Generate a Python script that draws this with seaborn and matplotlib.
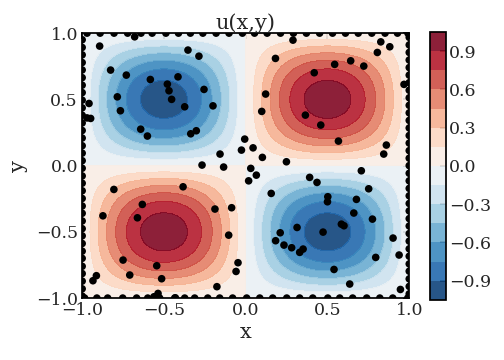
import numpy as np
import pandas as pd
import matplotlib
matplotlib.use("Agg")
import matplotlib.pyplot as plt
import seaborn as sns

# field levels and colorbar ticks
levels = [-1.05, -0.9, -0.75, -0.6, -0.45, -0.3, -0.15, 0.0,
          0.15, 0.3, 0.45, 0.6, 0.75, 0.9, 1.05]
cbar_ticks = [-0.9, -0.6, -0.3, 0.0, 0.3, 0.6, 0.9]
axis_ticks = [-1.0, -0.5, 0.0, 0.5, 1.0]

# interior collocation points
x_int = [-0.893, -0.353, -0.286, -0.826, -0.730, -0.583, -0.414, -0.479, -0.469, -0.453,
         -0.255, -0.785, -0.766, -0.373, -0.200, -0.642, -0.601, -0.336, -0.302, -0.958,
         -0.948, -0.970, -0.006, -0.026, 0.045, -0.157, -0.267, -0.135, 0.031, -0.679,
         0.289, 0.826, 0.881, 0.805, 0.182, 0.642, 0.722, 0.544, 0.419, 0.968,
         0.122, 0.098, 0.365, 0.459, 0.567, 0.102, 0.249, 0.860, 0.844,
         0.065, 0.018, -0.806, -0.383, -0.632, -0.662, -0.873, -0.188, -0.086, -0.104,
         -0.750, -0.544, -0.709, -0.514, -0.047, -0.059, -0.176, -0.913, -0.934, -0.536,
         -0.561, -0.430,
         0.707, 0.391, 0.436, 0.752, 0.156, 0.502, 0.500, 0.677, 0.661, 0.775,
         0.585, 0.601, 0.314, 0.473, 0.211, 0.183, 0.234, 0.281, 0.351, 0.330,
         0.901, 0.795, 0.938, 0.540, 0.636, 0.946]
y_int = [0.902, 0.872, 0.826, 0.721, 0.683, 0.650, 0.670, 0.615, 0.565, 0.500,
         0.575, 0.519, 0.414, 0.444, 0.451, 0.275, 0.223, 0.240, 0.263, 0.469,
         0.356, 0.360, 0.200, 0.117, 0.134, 0.087, 0.004, -0.011, -0.021, 0.972,
         0.947, 0.934, 0.897, 0.854, 0.809, 0.791, 0.751, 0.764, 0.701, 0.613,
         0.540, 0.409, 0.381, 0.306, 0.185, 0.062, 0.029, 0.155, 0.087,
         -0.072, -0.115, -0.180, -0.160, -0.293, -0.394, -0.379, -0.328, -0.318, -0.525,
         -0.713, -0.756, -0.826, -0.854, -0.733, -0.799, -0.914, -0.831, -0.869, -0.965,
         -0.990, -0.998,
         -0.039, -0.089, -0.127, -0.175, -0.210, -0.235, -0.273, -0.255, -0.358, -0.404,
         -0.442, -0.454, -0.467, -0.502, -0.507, -0.567, -0.600, -0.620, -0.630, -0.655,
         -0.547, -0.693, -0.675, -0.784, -0.894, -0.935]

# boundary points along each edge
x_bottom = [-0.985, -0.910, -0.844, -0.752, -0.667, -0.599, -0.526, -0.434, -0.373, -0.312,
            -0.232, -0.159, -0.080, 0.006, 0.086, 0.165, 0.251, 0.330, 0.410, 0.502,
            0.575, 0.654, 0.740, 0.820, 0.899, 0.991]
x_top = [-0.970, -0.890, -0.805, -0.722, -0.640, -0.572, -0.488, -0.411, -0.338, -0.262,
         -0.181, -0.102, -0.020, 0.054, 0.131, 0.213, 0.292, 0.371, 0.452, 0.531,
         0.610, 0.688, 0.771, 0.852, 0.928, 0.992]
y_left = [-0.985, -0.930, -0.872, -0.815, -0.760, -0.700, -0.646, -0.588, -0.530, -0.476,
          -0.418, -0.360, -0.305, -0.248, -0.190, -0.133, -0.078, -0.020, 0.037, 0.094,
          0.150, 0.208, 0.265, 0.322, 0.380, 0.436, 0.494, 0.551, 0.607, 0.664,
          0.722, 0.778, 0.836, 0.892, 0.950]
y_right = [-0.968, -0.912, -0.855, -0.797, -0.742, -0.684, -0.628, -0.570, -0.513, -0.456,
           -0.400, -0.342, -0.286, -0.228, -0.172, -0.115, -0.058, 0.000, 0.056, 0.113,
           0.170, 0.227, 0.284, 0.341, 0.398, 0.455, 0.512, 0.569, 0.626, 0.683,
           0.740, 0.797, 0.854, 0.911, 0.968]

# exact solution on a grid
xs = np.linspace(-1, 1, 201)
X, Y = np.meshgrid(xs, xs)
U = np.sin(np.pi * X) * np.sin(np.pi * Y)

pts = pd.DataFrame({
    'x': x_int + x_bottom + x_top + [-1.0] * len(y_left) + [1.0] * len(y_right),
    'y': y_int + [-1.0] * len(x_bottom) + [1.0] * len(x_top) + y_left + y_right,
})

sns.set_theme(style='white')
plt.rcParams['font.family'] = ['DejaVu Serif']
plt.rcParams['xtick.direction'] = 'in'
plt.rcParams['ytick.direction'] = 'in'

fig = plt.figure(figsize=(5.04, 3.6), dpi=100)
ax = fig.add_axes([0.163, 0.172, 0.649, 0.736])
cax = fig.add_axes([0.853, 0.167, 0.032, 0.744])

cf = ax.contourf(X, Y, U, levels=levels, cmap='RdBu_r', alpha=0.9)
sns.scatterplot(data=pts, x='x', y='y', color='black', s=30, edgecolor='none',
                ax=ax, zorder=3)

ax.set_xlim(-1, 1)
ax.set_ylim(-1, 1)
ax.set_xticks(axis_ticks)
ax.set_yticks(axis_ticks)
ax.tick_params(labelsize=12.5, top=True, right=True, length=4, color='black', pad=3)
ax.set_xlabel('x', fontsize=15, labelpad=3)
ax.set_ylabel('y', fontsize=15, labelpad=6)
ax.set_title('u(x,y)', fontsize=15, pad=3)
for sp in ax.spines.values():
    sp.set_color('black')

cb = fig.colorbar(cf, cax=cax, ticks=cbar_ticks)
cb.ax.tick_params(labelsize=12.5, direction='in', length=4, color='black', pad=2)
cb.ax.set_yticklabels([f'{t:.1f}'.replace('-', '\u2212') for t in cbar_ticks])
cb.outline.set_edgecolor('black')

fig.savefig('out.png', dpi=100)
